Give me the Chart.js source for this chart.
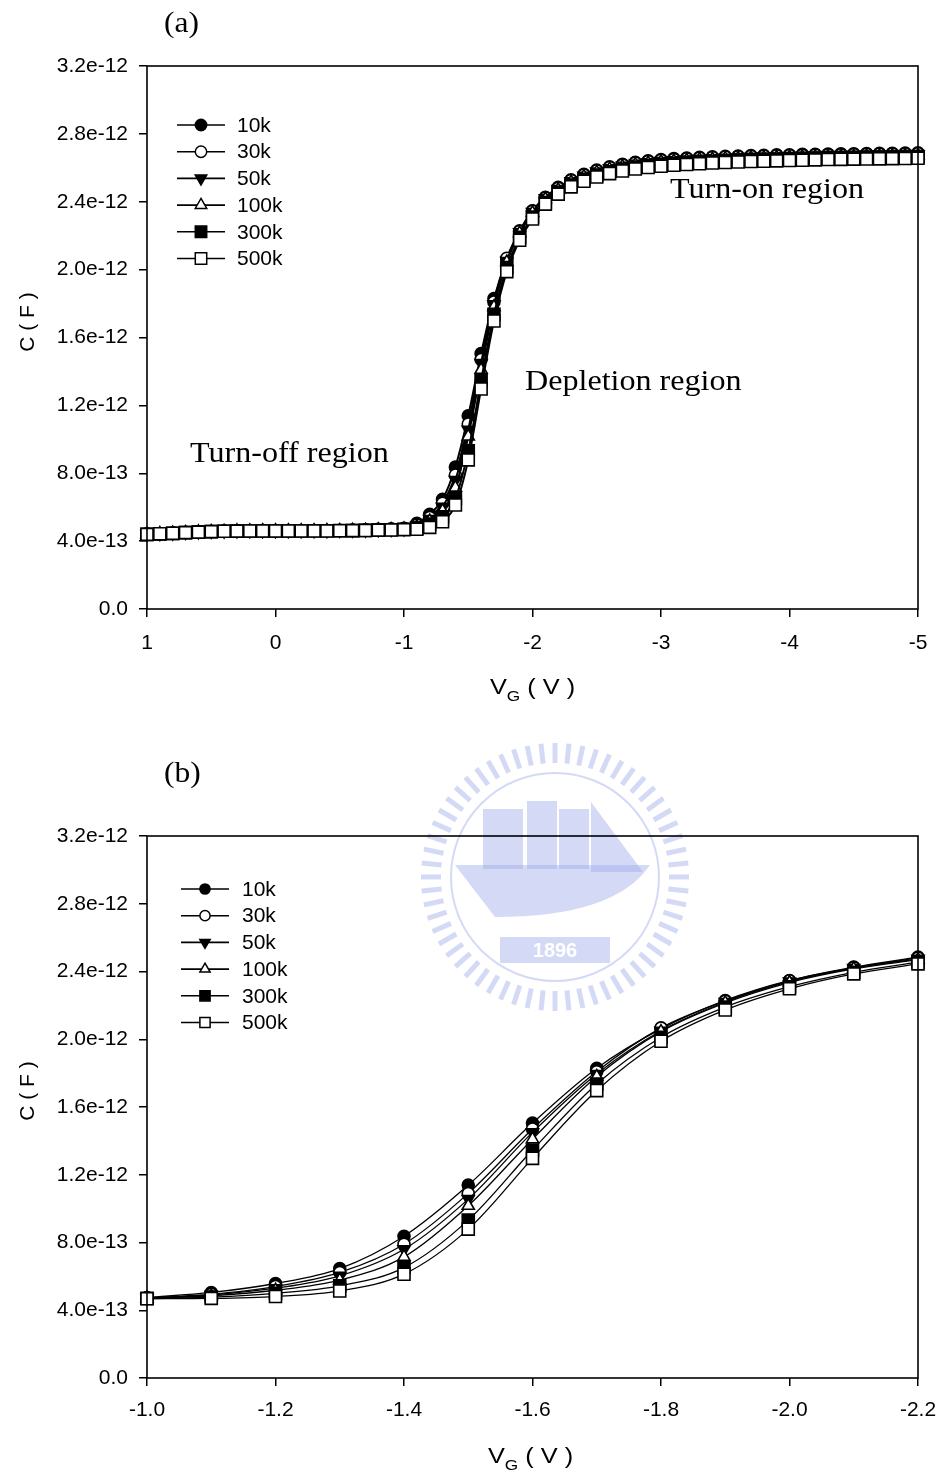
<!DOCTYPE html>
<html>
<head>
<meta charset="utf-8">
<script src="https://cdn.jsdelivr.net/npm/chart.js@4.4.1/dist/chart.umd.min.js"></script>
<style>
  html, body { margin: 0; padding: 0; background: #fff; }
  #wrap { position: relative; width: 939px; height: 1475px; }
  canvas { position: absolute; left: 0; }
  #c1 { top: 0; }
  #c2 { top: 730px; }
</style>
</head>
<body>
<div id="wrap">
  <canvas id="c1" width="939" height="730"></canvas>
  <canvas id="c2" width="939" height="745"></canvas>
</div>
<script>
// gate voltage, +1 V down to -5 V in 0.1 V steps
const vg = [1.0, 0.9, 0.8, 0.7, 0.6, 0.5, 0.4, 0.3, 0.2, 0.1,
  0.0, -0.1, -0.2, -0.3, -0.4, -0.5, -0.6, -0.7, -0.8, -0.9,
  -1.0, -1.1, -1.2, -1.3, -1.4, -1.5, -1.6, -1.7, -1.8, -1.9,
  -2.0, -2.1, -2.2, -2.3, -2.4, -2.5, -2.6, -2.7, -2.8, -2.9,
  -3.0, -3.1, -3.2, -3.3, -3.4, -3.5, -3.6, -3.7, -3.8, -3.9,
  -4.0, -4.1, -4.2, -4.3, -4.4, -4.5, -4.6, -4.7, -4.8, -4.9, -5.0]

// capacitance in units of 1e-12 F, one array per measuring frequency
const c10k = [0.442, 0.445, 0.448, 0.452, 0.455, 0.458, 0.460, 0.461, 0.462, 0.462,
  0.462, 0.462, 0.462, 0.463, 0.463, 0.464, 0.465, 0.467, 0.469, 0.472,
  0.475, 0.505, 0.558, 0.646, 0.837, 1.139, 1.505, 1.829, 2.061, 2.229,
  2.347, 2.426, 2.485, 2.529, 2.562, 2.587, 2.606, 2.621, 2.633, 2.642,
  2.649, 2.654, 2.658, 2.662, 2.665, 2.668, 2.670, 2.672, 2.674, 2.676,
  2.677, 2.679, 2.680, 2.681, 2.682, 2.683, 2.684, 2.685, 2.686, 2.687, 2.688]
const c30k = [0.442, 0.445, 0.448, 0.451, 0.455, 0.457, 0.459, 0.461, 0.461, 0.462,
  0.462, 0.462, 0.462, 0.462, 0.463, 0.463, 0.464, 0.466, 0.468, 0.470,
  0.473, 0.495, 0.540, 0.623, 0.790, 1.090, 1.470, 1.809, 2.067, 2.225,
  2.345, 2.423, 2.480, 2.525, 2.558, 2.583, 2.602, 2.617, 2.629, 2.638,
  2.645, 2.650, 2.654, 2.658, 2.661, 2.664, 2.666, 2.668, 2.670, 2.672,
  2.673, 2.675, 2.676, 2.677, 2.678, 2.679, 2.680, 2.681, 2.682, 2.683, 2.684]
const c50k = [0.441, 0.444, 0.447, 0.451, 0.454, 0.457, 0.459, 0.460, 0.461, 0.461,
  0.461, 0.461, 0.461, 0.462, 0.462, 0.463, 0.464, 0.465, 0.467, 0.469,
  0.472, 0.490, 0.530, 0.603, 0.760, 1.056, 1.450, 1.795, 2.050, 2.220,
  2.340, 2.420, 2.475, 2.520, 2.553, 2.578, 2.597, 2.612, 2.624, 2.633,
  2.640, 2.645, 2.649, 2.653, 2.656, 2.659, 2.661, 2.663, 2.665, 2.667,
  2.668, 2.670, 2.671, 2.672, 2.673, 2.674, 2.675, 2.676, 2.677, 2.678, 2.679]
const c100k = [0.441, 0.444, 0.447, 0.450, 0.454, 0.456, 0.458, 0.460, 0.460, 0.461,
  0.461, 0.461, 0.461, 0.461, 0.462, 0.462, 0.463, 0.464, 0.466, 0.468,
  0.471, 0.485, 0.518, 0.578, 0.715, 1.017, 1.410, 1.780, 2.045, 2.215,
  2.335, 2.415, 2.470, 2.515, 2.548, 2.573, 2.592, 2.607, 2.619, 2.628,
  2.635, 2.640, 2.644, 2.648, 2.651, 2.654, 2.656, 2.658, 2.660, 2.662,
  2.663, 2.665, 2.666, 2.667, 2.668, 2.669, 2.670, 2.671, 2.672, 2.673, 2.674]
const c300k = [0.440, 0.443, 0.446, 0.450, 0.453, 0.456, 0.458, 0.459, 0.460, 0.460,
  0.460, 0.460, 0.460, 0.461, 0.461, 0.462, 0.462, 0.463, 0.465, 0.467,
  0.470, 0.478, 0.500, 0.544, 0.652, 0.932, 1.346, 1.736, 2.012, 2.190,
  2.310, 2.395, 2.455, 2.499, 2.532, 2.557, 2.577, 2.592, 2.604, 2.613,
  2.620, 2.626, 2.631, 2.635, 2.639, 2.642, 2.645, 2.648, 2.650, 2.652,
  2.654, 2.656, 2.658, 2.660, 2.661, 2.662, 2.663, 2.664, 2.665, 2.666, 2.667]
const c500k = [0.440, 0.443, 0.446, 0.450, 0.453, 0.456, 0.458, 0.459, 0.460, 0.460,
  0.460, 0.460, 0.460, 0.460, 0.460, 0.461, 0.462, 0.463, 0.465, 0.466,
  0.468, 0.470, 0.481, 0.514, 0.613, 0.879, 1.297, 1.697, 1.988, 2.173,
  2.298, 2.386, 2.445, 2.488, 2.521, 2.546, 2.566, 2.581, 2.593, 2.602,
  2.609, 2.615, 2.620, 2.624, 2.628, 2.631, 2.634, 2.637, 2.639, 2.641,
  2.643, 2.645, 2.647, 2.649, 2.650, 2.651, 2.652, 2.653, 2.654, 2.655, 2.656]

const freqLabels = ['10k', '30k', '50k', '100k', '300k', '500k']
const allSeries = [c10k, c30k, c50k, c100k, c300k, c500k]

// panel (b) zooms in on -1.0 .. -2.2 V
const zoomFrom = vg.indexOf(-1.0)
const zoomTo = vg.indexOf(-2.2) + 1
const vgZoom = vg.slice(zoomFrom, zoomTo)
const zoomSeries = allSeries.map(s => s.slice(zoomFrom, zoomTo))

const SANS = '"Liberation Sans", Arial, sans-serif'
const SERIF = '"Liberation Serif", "Times New Roman", serif'

const markers = [
  { style: 'circle', fill: '#000', rot: 0, r: 6 },
  { style: 'circle', fill: '#fff', rot: 0, r: 6 },
  { style: 'triangle', fill: '#000', rot: 180, r: 7 },
  { style: 'triangle', fill: '#fff', rot: 0, r: 7 },
  { style: 'rect', fill: '#000', rot: 0, r: 8.5 },
  { style: 'rect', fill: '#fff', rot: 0, r: 8.5 }
]

function drawMarker(ctx, m, x, y, r) {
  ctx.save()
  ctx.beginPath()
  if (m.style === 'circle') {
    ctx.arc(x, y, r, 0, Math.PI * 2)
  } else if (m.style === 'triangle') {
    const a0 = m.rot * Math.PI / 180
    for (let k = 0; k < 3; k++) {
      const a = a0 + k * 2 * Math.PI / 3
      const px = x + Math.sin(a) * r, py = y - Math.cos(a) * r
      if (k) ctx.lineTo(px, py); else ctx.moveTo(px, py)
    }
    ctx.closePath()
  } else {
    const s = r * Math.SQRT1_2
    ctx.rect(x - s, y - s, 2 * s, 2 * s)
  }
  ctx.fillStyle = m.fill
  ctx.fill()
  ctx.lineWidth = 1.5
  ctx.strokeStyle = '#000'
  ctx.stroke()
  ctx.restore()
}

// faint university emblem behind panel (b)
function drawWatermark(ctx, cx, cy) {
  ctx.save()
  const col = 'rgba(160,172,232,0.45)'
  ctx.strokeStyle = col
  ctx.fillStyle = col
  ctx.lineWidth = 5
  for (let a = 0; a < 360; a += 6) {
    const t = a * Math.PI / 180
    ctx.beginPath()
    ctx.moveTo(cx + Math.cos(t) * 114, cy + Math.sin(t) * 114)
    ctx.lineTo(cx + Math.cos(t) * 134, cy + Math.sin(t) * 134)
    ctx.stroke()
  }
  ctx.lineWidth = 2
  ctx.beginPath()
  ctx.arc(cx, cy, 104, 0, Math.PI * 2)
  ctx.stroke()
  ctx.fillRect(cx - 72, cy - 68, 40, 60)
  ctx.fillRect(cx - 28, cy - 76, 30, 68)
  ctx.fillRect(cx + 4, cy - 68, 30, 60)
  ctx.beginPath()
  ctx.moveTo(cx + 36, cy - 75); ctx.lineTo(cx + 88, cy - 5); ctx.lineTo(cx + 36, cy - 5)
  ctx.closePath(); ctx.fill()
  ctx.beginPath()
  ctx.moveTo(cx - 100, cy - 12); ctx.lineTo(cx + 95, cy - 12)
  ctx.quadraticCurveTo(cx + 60, cy + 40, cx - 60, cy + 40)
  ctx.closePath(); ctx.fill()
  ctx.fillRect(cx - 55, cy + 60, 110, 26)
  ctx.fillStyle = '#fff'
  ctx.font = 'bold 20px ' + SANS
  ctx.textAlign = 'center'
  ctx.textBaseline = 'middle'
  ctx.fillText('1896', cx, cy + 74)
  ctx.restore()
}

function stretchText(ctx, text, x, y, sx) {
  ctx.save()
  ctx.translate(x, y)
  ctx.scale(sx, 1)
  ctx.fillText(text, 0, 0)
  ctx.restore()
  return ctx.measureText(text).width * sx
}

function panelPlugin(cfg) {
  return {
    id: 'panel',
    beforeDraw(chart) {
      if (cfg.watermark) drawWatermark(chart.ctx, cfg.watermark[0], cfg.watermark[1])
    },
    afterDraw(chart) {
      const ctx = chart.ctx
      const a = chart.chartArea
      ctx.save()
      // frame
      ctx.strokeStyle = '#000'
      ctx.lineWidth = 1.6
      ctx.strokeRect(a.left, a.top, a.right - a.left, a.bottom - a.top)

      // panel tag
      ctx.fillStyle = '#000'
      ctx.textBaseline = 'alphabetic'
      ctx.textAlign = 'left'
      ctx.font = '30px ' + SERIF
      stretchText(ctx, cfg.tag, 164, cfg.tagY, 1.05)

      // region notes
      ctx.font = '30px ' + SERIF
      ;(cfg.notes || []).forEach(n => stretchText(ctx, n.text, n.x, n.y, 1.07))

      // y title
      ctx.save()
      ctx.translate(34, cfg.yTitleY)
      ctx.rotate(-Math.PI / 2)
      ctx.textAlign = 'center'
      ctx.font = '21px ' + SANS
      ctx.fillText('C ( F )', 0, 0)
      ctx.restore()

      // x title with subscript
      ctx.font = '22px ' + SANS
      let x = cfg.xTitleX
      x += stretchText(ctx, 'V', x, cfg.xTitleY, 1.15)
      ctx.font = '15px ' + SANS
      x += stretchText(ctx, 'G', x, cfg.xTitleY + 7, 1.15)
      ctx.font = '22px ' + SANS
      stretchText(ctx, ' ( V )', x, cfg.xTitleY, 1.15)

      // legend
      ctx.font = '21px ' + SANS
      ctx.textBaseline = 'middle'
      freqLabels.forEach((lab, i) => {
        const y = cfg.legend.y0 + i * cfg.legend.dy
        ctx.lineWidth = 1.6
        ctx.beginPath()
        ctx.moveTo(cfg.legend.x0, y)
        ctx.lineTo(cfg.legend.x1, y)
        ctx.stroke()
        const m = markers[i]
        drawMarker(ctx, m, (cfg.legend.x0 + cfg.legend.x1) / 2, y, m.r * cfg.legend.ms)
        ctx.fillStyle = '#000'
        ctx.fillText(lab, cfg.legend.tx, y + 1)
      })
      ctx.restore()
    }
  }
}

function makeChart(id, xs, series, cfg) {
  const datasets = series.map((ys, i) => ({
    label: freqLabels[i],
    data: xs.map((x, j) => ({ x, y: ys[j] })),
    borderColor: '#000',
    borderWidth: cfg.lineWidth,
    pointStyle: markers[i].style,
    pointRotation: markers[i].rot,
    pointRadius: markers[i].r,
    pointHoverRadius: markers[i].r,
    pointBackgroundColor: markers[i].fill,
    pointBorderColor: '#000',
    pointBorderWidth: 1.6,
    cubicInterpolationMode: 'monotone',
    fill: false,
    clip: false,
    order: series.length - 1 - i
  }))
  const tickFont = { family: SANS, size: 21 }
  return new Chart(document.getElementById(id), {
    type: 'line',
    data: { datasets },
    options: {
      responsive: false,
      animation: false,
      layout: { padding: { top: cfg.top, right: 21, left: 0, bottom: 0 } },
      plugins: { legend: { display: false }, tooltip: { enabled: false } },
      scales: {
        x: {
          type: 'linear', reverse: true, min: cfg.xMin, max: cfg.xMax,
          ticks: { stepSize: cfg.xStep, autoSkip: false, maxRotation: 0, color: '#000', font: tickFont, padding: cfg.xPad, callback: cfg.xFmt },
          grid: { drawOnChartArea: false, drawTicks: true, tickLength: 8, color: '#000', lineWidth: 1.5 },
          border: { display: false },
          afterFit: s => { s.height = cfg.xHeight; s.paddingLeft = 0; s.paddingRight = 0 }
        },
        y: {
          min: 0, max: 3.2,
          ticks: { stepSize: 0.4, autoSkip: false, color: '#000', font: tickFont, padding: 11,
            callback: v => v === 0 ? '0.0' : (v * 1e-12).toExponential(1) },
          grid: { drawOnChartArea: false, drawTicks: true, tickLength: 8, color: '#000', lineWidth: 1.5 },
          border: { display: false },
          afterFit: s => { s.width = 147; s.paddingTop = 0; s.paddingBottom = 0 }
        }
      }
    },
    plugins: [panelPlugin(cfg)]
  })
}

makeChart('c1', vg, allSeries, {
  top: 66, xHeight: 121, xPad: 14, lineWidth: 2,
  xMin: -5, xMax: 1, xStep: 1, xFmt: v => String(Math.round(v)),
  tag: '(a)', tagY: 32,
  notes: [
    { text: 'Turn-on region', x: 670, y: 198 },
    { text: 'Depletion region', x: 525, y: 390 },
    { text: 'Turn-off region', x: 190, y: 462 }
  ],
  yTitleY: 322, xTitleX: 490, xTitleY: 694,
  legend: { x0: 177, x1: 225, tx: 237, y0: 125, dy: 26.7, ms: 0.95 }
})

makeChart('c2', vgZoom, zoomSeries, {
  top: 106, xHeight: 97, xPad: 12, lineWidth: 1.3,
  xMin: -2.2, xMax: -1.0, xStep: 0.2, xFmt: v => v.toFixed(1),
  tag: '(b)', tagY: 52,
  notes: [],
  yTitleY: 361, xTitleX: 488, xTitleY: 733,
  legend: { x0: 181, x1: 229, tx: 242, y0: 159, dy: 26.7, ms: 0.85 },
  watermark: [555, 147]
})
</script>
</body>
</html>
